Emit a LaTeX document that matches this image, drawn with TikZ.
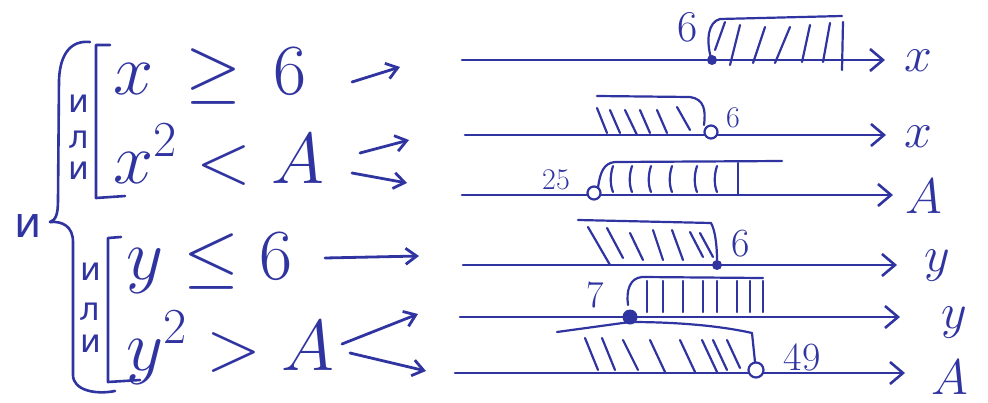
\documentclass[tikz,border=0pt]{standalone}
\usepackage{fix-cm}
\usepackage{fontspec}
\usetikzlibrary{arrows.meta}
\newfontfamily\cyrfont{DejaVu Sans}
\definecolor{ink}{RGB}{48,52,160}
\begin{document}
\begin{tikzpicture}[x=1pt,y=-1pt,line cap=round,line join=round,
 pen/.style={draw=ink,line width=2.6pt},
 hatch/.style={draw=ink,line width=2.2pt},
 axisline/.style={draw=ink,line width=2.6pt,-{Straight Barb[length=13pt,width=22pt,line width=2.6pt]}},
 ptr/.style={draw=ink,line width=2.8pt,-{Straight Barb[length=11pt,width=16pt,line width=2.8pt]}},
 formula/.style={text=ink,font=\fontsize{72}{76}\selectfont,inner sep=0pt,anchor=base west},
 axlabel/.style={text=ink,font=\fontsize{50}{52}\selectfont,inner sep=0pt},
 numlabel/.style={text=ink,inner sep=0pt},
 cyr/.style={text=ink,font=\cyrfont\fontsize{32}{34}\selectfont,inner sep=0pt},
 cyrbig/.style={text=ink,font=\cyrfont\fontsize{42}{44}\selectfont,inner sep=0pt},
 dotf/.style={circle,fill=ink,inner sep=0pt,minimum size=10pt},
 doto/.style={circle,draw=ink,fill=white,line width=2.2pt,inner sep=0pt,minimum size=13pt},
]
\fill[white] (0,0) rectangle (988,402);
\useasboundingbox (0,0) rectangle (988,402);

% ---------- left: system ----------
\draw[pen] (90,42) .. controls (70,40) and (60,55) .. (59,80) -- (58,200)
  .. controls (58,214) and (56,220) .. (50,222);
\draw[pen] (50,222) .. controls (62,221) and (73,226) .. (73,242) -- (73,375)
  .. controls (73,390) and (95,395) .. (115,391);
\node[cyrbig] (and) at (28,226) {и};

\draw[pen] (110,45) -- (96,45) -- (96,198) -- (125,196);
\node[cyr] (or1a) at (79,104) {и};
\node[cyr] (or1b) at (79,140) {л};
\node[cyr] (or1c) at (79,171) {и};

\draw[pen] (121,237) -- (108,238) -- (108,382) -- (140,380);
\node[cyr] (or2a) at (91,272) {и};
\node[cyr] (or2b) at (90,312) {л};
\node[cyr] (or2c) at (91,344) {и};

\node[formula] (f1) at (113,94) {$x\,\geq\,6$};
\node[formula] (f2) at (113,183) {$x^2<A$};
\node[formula] (f3) at (126,279) {$y\leq 6$};
\node[formula] (f4) at (126,370) {$y^2>A$};

% arrows from the formulas
\coordinate (r1s) at (352,82);  \coordinate (r1e) at (400,67);
\coordinate (r2s) at (360,153); \coordinate (r2e) at (409,140);
\coordinate (r3s) at (352,173); \coordinate (r3e) at (407,183);
\coordinate (r4s) at (325,258); \coordinate (r4e) at (419,256);
\coordinate (r5s) at (342,344); \coordinate (r5e) at (418,314);
\coordinate (r6s) at (350,353); \coordinate (r6e) at (426,371);
\draw[ptr] (r1s) -- (r1e);
\draw[ptr] (r2s) -- (r2e);
\draw[ptr] (r3s) -- (r3e);
\draw[ptr] (r4s) -- (r4e);
\draw[ptr] (r5s) -- (r5e);
\draw[ptr] (r6s) -- (r6e);

% ---------- right: number lines ----------
\coordinate (a1s) at (462,60);  \coordinate (a1e) at (885,60);
\coordinate (a2s) at (465,135); \coordinate (a2e) at (886,135);
\coordinate (a3s) at (462,195); \coordinate (a3e) at (893,195);
\coordinate (a4s) at (463,265); \coordinate (a4e) at (897,265);
\coordinate (a5s) at (460,317); \coordinate (a5e) at (900,317);
\coordinate (a6s) at (455,373); \coordinate (a6e) at (905,373);
\foreach \i in {1,...,6} \draw[axisline] (a\i s) -- (a\i e);

\node[axlabel] (x1) at (918,61) {$x$};
\node[axlabel] (x2) at (918,137) {$x$};
\node[axlabel] (A1) at (924,196) {$A$};
\node[axlabel] (y1) at (937,266) {$y$};
\node[axlabel] (y2) at (954,323) {$y$};
\node[axlabel] (A2) at (950,377) {$A$};

% line 1: x >= 6
\draw[hatch] (711,58) .. controls (706,40) and (708,22) .. (720,19) -- (842,16);
\foreach \a/\b/\c/\d in {715/50/725/22, 730/65/740/25, 753/63/765/27, 775/63/790/27, 802/62/810/25, 823/62/830/23, 842/70/843/22}
  \draw[hatch] (\a,\b) -- (\c,\d);
\node[dotf] (p1) at (712,60) {};
\node[numlabel,font=\fontsize{44}{46}\selectfont] (n1) at (688,27) {6};

% line 2: x < 6
\draw[hatch] (597,96) -- (690,97) .. controls (704,99) and (706,110) .. (704,125);
\foreach \a/\b/\c/\d in {597/108/607/133, 610/110/620/133, 625/110/637/135, 640/110/650/133, 657/110/667/133, 677/107/690/130}
  \draw[hatch] (\a,\b) -- (\c,\d);
\node[doto] (p2) at (711,132) {};
\node[numlabel,font=\fontsize{30}{32}\selectfont] (n2) at (733,118) {6};

% line 3: A > 25
\draw[hatch] (598,188) .. controls (600,172) and (604,163) .. (615,162) -- (782,161);
\foreach \a in {613,632,651,672,697,717}
  \draw[hatch] (\a,166) .. controls (\a-3,175) and (\a-3,185) .. (\a,192);
\draw[hatch] (738,163) -- (738,195);
\node[doto] (p3) at (594,193) {};
\node[numlabel,font=\fontsize{30}{32}\selectfont] (n3) at (556,180) {25};

% line 4: y <= 6
\draw[hatch] (578,220) -- (711,223) .. controls (715,230) and (717,245) .. (717,260);
\foreach \a/\b/\c/\d in {588/227/610/265, 607/228/623/258, 630/233/643/260, 653/230/663/260, 672/230/683/260, 690/232/703/257, 700/233/713/257}
  \draw[hatch] (\a,\b) -- (\c,\d);
\node[dotf] (p4) at (717,265) {};
\node[numlabel,font=\fontsize{40}{42}\selectfont] (n4) at (741,244) {6};

% line 5: y > 7 (upper)
\draw[hatch] (628,305) .. controls (626,290) and (630,278) .. (642,277) -- (763,278);
\foreach \a in {647,663,683,703,717,737,750,763}
  \draw[hatch] (\a,281) -- (\a,312);
\node[dotf,minimum size=15pt] (p5) at (630,317) {};
\node[numlabel,font=\fontsize{38}{40}\selectfont] (n5) at (595,295) {7};

% line 6: A < 49
\draw[hatch] (557,332) -- (630,322) .. controls (690,322) and (730,328) .. (752,333) -- (755,362);
\foreach \a/\b/\c/\d in {585/338/598/370, 602/338/615/370, 623/340/638/370, 650/340/665/372, 680/340/695/372, 702/340/717/372, 713/340/727/370, 727/340/740/368}
  \draw[hatch] (\a,\b) -- (\c,\d);
\node[doto,minimum size=15pt] (p6) at (756,370) {};
\node[numlabel,font=\fontsize{40}{42}\selectfont] (n6) at (802,357) {49};
\end{tikzpicture}
\end{document}
